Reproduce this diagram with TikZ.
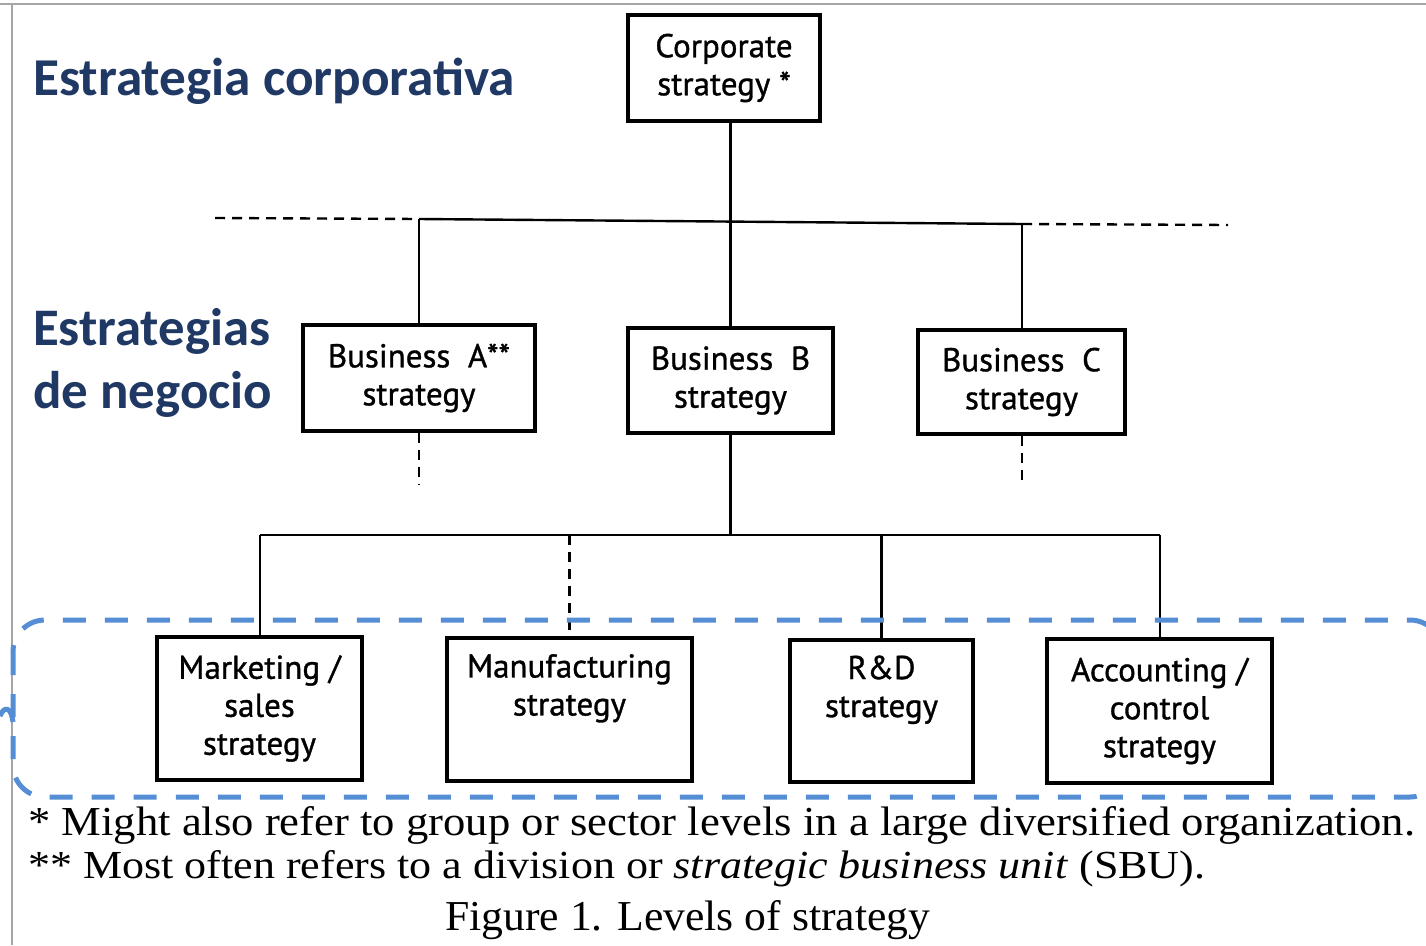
\documentclass[tikz,border=0pt]{standalone}
\usepackage{fontspec}
\setmainfont{Liberation Serif}
\newfontfamily\boxfont[FakeBold=1]{PT Sans}
\newfontfamily\headfont{Carlito}
\usetikzlibrary{positioning}
\definecolor{navy}{RGB}{31,56,100}
\definecolor{bluedash}{RGB}{85,142,213}
\tikzset{
  sbox/.style={draw=black, line width=3.2pt, rectangle, align=center, inner sep=0pt,
    font=\boxfont\fontsize{33}{38}\selectfont},
  conn/.style={draw=black, line width=2.4pt},
  dconn/.style={draw=black, line width=2.4pt, dash pattern=on 10pt off 7pt},
  heading/.style={text=navy, font=\headfont\bfseries, inner sep=0pt, anchor=base west},
  foot/.style={inner sep=0pt, anchor=base west},
}
\begin{document}
\begin{tikzpicture}[x=1pt,y=-1pt]
\useasboundingbox (0,0) rectangle (1426,945);
\fill[white] (0,0) rectangle (1426,945);
% frame
\draw[gray!70, line width=1.5pt] (0,4) -- (1426,4);
\draw[gray!70, line width=1.5pt] (12,4) -- (12,945);

% headings
\node[heading] (h1) at (33,95) {\resizebox{482pt}{!}{Estrategia corporativa}};
\node[heading] (h2) at (33,345) {\resizebox{237pt}{!}{Estrategias}};
\node[heading] (h3) at (33,408) {\resizebox{239pt}{!}{de negocio}};

% boxes
\node[sbox, minimum width=192pt, minimum height=106pt] (corp) at (724,68) {Corporate\\strategy *};
\node[sbox, minimum width=232pt, minimum height=106pt] (bA) at (419,378) {Business\ \ A**\\strategy};
\node[sbox, minimum width=205pt, minimum height=105pt] (bB) at (730.5,380.5) {Business\ \ B\\strategy};
\node[sbox, minimum width=207pt, minimum height=104pt] (bC) at (1021.5,382) {Business\ \ C\\strategy};
\node[sbox, minimum width=205pt, minimum height=143pt] (mk) at (259.5,708.5) {Marketing /\\sales\\strategy};
\node[sbox, minimum width=245pt, minimum height=143pt] (mf) at (569.5,709.5) {Manufacturing\\strategy\\\strut};
\node[sbox, minimum width=183pt, minimum height=142pt] (rd) at (881.5,711) {R\&D\\strategy\\\strut};
\node[sbox, minimum width=225pt, minimum height=144pt] (ac) at (1159.5,711) {Accounting /\\control\\strategy};

% upper connectors
\coordinate (dl) at (215,218);
\coordinate (jl) at (419,219);
\coordinate (jr) at (1022,224);
\coordinate (dr) at (1228,225);
\draw[dconn] (dl) -- (jl);
\draw[conn] (jl) -- (jr);
\draw[dconn] (jr) -- (dr);
\draw[conn] (corp.south -| bB.north) -- (bB.north);
\draw[conn] (jl) -- (bA.north);
\draw[conn] (jr) -- (jr |- bC.north);
\coordinate (aE) at (419,485);
\coordinate (cE) at (1022,485);
\draw[dconn] (bA.south) -- (aE);
\draw[dconn] (jr |- bC.south) -- (cE);

% lower connectors
\coordinate (ml) at (260,535);
\coordinate (mr) at (1160,535);
\draw[conn] (bB.south) -- (bB.south |- ml);
\draw[conn] (ml) -- (mr);
\draw[conn] (ml) -- (ml |- mk.north);
\draw[dconn] (ml -| mf.north) -- (mf.north);
\draw[conn] (ml -| rd.north) -- (rd.north);
\draw[conn] (mr) -- (mr |- ac.north);

% blue dashed rounded frame
\draw[bluedash, line width=5pt, dash pattern=on 23pt off 19pt, rounded corners=32pt]
  (13,620) rectangle (1442,797);
\draw[bluedash, line width=5pt] (0,716) .. controls (4,706) and (11,706) .. (13,722);

% footnotes
\node[foot] (f1) at (28,835) {\resizebox{1387pt}{29pt}{* Might also refer to group or sector levels in a large diversified organization.}};
\node[foot] (f2) at (28,878) {\resizebox{1177pt}{28pt}{** Most often refers to a division or \textit{strategic business unit} (SBU).}};
\node[foot] (f3) at (445,930) {\resizebox{485pt}{30pt}{Figure 1. Levels of strategy}};
\end{tikzpicture}
\end{document}
